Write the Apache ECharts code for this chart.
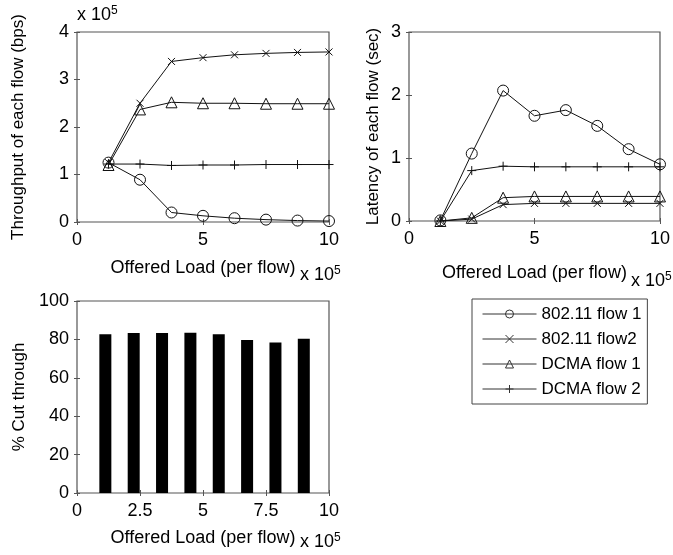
<!DOCTYPE html>
<html>
<head>
<meta charset="utf-8">
<script src="https://cdn.jsdelivr.net/npm/echarts@6/dist/echarts.min.js"></script>
<style>html,body{margin:0;padding:0;background:#fff}#c{width:673px;height:555px}</style>
</head>
<body>
<div id="c"></div>
<script>
// ---- data (offered load and throughput in units of 10^5) ----
var loadX = [1.25, 2.5, 3.75, 5, 6.25, 7.5, 8.75, 10];
var seriesNames = ['802.11 flow 1', '802.11 flow2', 'DCMA flow 1', 'DCMA flow 2'];
var thr80211F1 = [1.25, 0.89, 0.20, 0.13, 0.08, 0.05, 0.03, 0.02];
var thr80211F2 = [1.25, 2.50, 3.38, 3.46, 3.52, 3.55, 3.57, 3.58];
var thrDcmaF1  = [1.20, 2.37, 2.52, 2.50, 2.50, 2.49, 2.49, 2.49];
var thrDcmaF2  = [1.22, 1.22, 1.19, 1.20, 1.20, 1.21, 1.21, 1.21];
var lat80211F1 = [0.01, 1.07, 2.07, 1.67, 1.76, 1.51, 1.14, 0.90];
var lat80211F2 = [0.00, 0.03, 0.26, 0.28, 0.28, 0.28, 0.28, 0.28];
var latDcmaF1  = [0.00, 0.05, 0.37, 0.39, 0.39, 0.39, 0.39, 0.39];
var latDcmaF2  = [0.00, 0.80, 0.87, 0.86, 0.86, 0.86, 0.86, 0.86];
var barX = [1.125, 2.25, 3.375, 4.5, 5.625, 6.75, 7.875, 9];
var cutThrough = [82.7, 83.3, 83.3, 83.5, 82.7, 79.7, 78.4, 80.4];

var FONT = 'Liberation Sans, Arial, Helvetica, sans-serif';
var symbols = [
  'circle',
  'path://M0,0L1,1M1,0L0,1',
  'triangle',
  'path://M0.5,0L0.5,1M0,0.5L1,0.5'
];
var symSizes = [11, 7, 11, 9];

function pairs(xs, ys) { return xs.map(function (x, i) { return [x, ys[i]]; }); }

function lineSeries(idx, grid, data) {
  return {
    type: 'line', name: seriesNames[idx], xAxisIndex: grid * 2, yAxisIndex: grid * 2,
    data: pairs(loadX, data), symbol: symbols[idx], symbolSize: symSizes[idx],
    showAllSymbol: true,
    lineStyle: { color: '#111', width: 1 },
    itemStyle: { color: 'rgba(0,0,0,0)', borderColor: '#111', borderWidth: 1 },
    emphasis: { disabled: true }, animation: false, z: 3
  };
}

var grids = [
  { left: 77, top: 32, width: 252, height: 190 },
  { left: 409, top: 32, width: 253, height: 189 },
  { left: 77, top: 301, width: 252, height: 192 }
];
grids.forEach(function (g) { g.show = true; g.borderColor = '#555'; g.borderWidth = 1.2; g.backgroundColor = '#fff'; });

var axLbl = { fontSize: 18, fontFamily: FONT, color: '#000' };

function xAxes(grid, interval, gap) {
  return [
    { type: 'value', gridIndex: grid, min: 0, max: 10, interval: interval, position: 'bottom',
      axisLine: { show: false }, splitLine: { show: false },
      axisTick: { inside: true, length: 3, lineStyle: { color: '#555' } },
      axisLabel: Object.assign({ margin: 9, formatter: function (v) { return String(v); } }, axLbl),
      name: 'Offered Load (per flow)', nameLocation: 'middle', nameGap: gap,
      nameTextStyle: { fontSize: 18, fontFamily: FONT, color: '#000' } },
    { type: 'value', gridIndex: grid, min: 0, max: 10, interval: interval, position: 'top',
      axisLine: { show: false }, splitLine: { show: false }, axisLabel: { show: false },
      axisTick: { inside: true, length: 3, lineStyle: { color: '#555' } } }
  ];
}
function yAxes(grid, max, interval, name, gap) {
  return [
    { type: 'value', gridIndex: grid, min: 0, max: max, interval: interval, position: 'left',
      axisLine: { show: false }, splitLine: { show: false },
      axisTick: { inside: true, length: 3, lineStyle: { color: '#555' } },
      axisLabel: Object.assign({ margin: 8 }, axLbl),
      name: name, nameLocation: 'middle', nameGap: gap,
      nameTextStyle: { fontSize: 17, fontFamily: FONT, color: '#000' } },
    { type: 'value', gridIndex: grid, min: 0, max: max, interval: interval, position: 'right',
      axisLine: { show: false }, splitLine: { show: false }, axisLabel: { show: false },
      axisTick: { inside: true, length: 3, lineStyle: { color: '#555' } } }
  ];
}

var series = [
  lineSeries(0, 0, thr80211F1), lineSeries(1, 0, thr80211F2), lineSeries(2, 0, thrDcmaF1), lineSeries(3, 0, thrDcmaF2),
  lineSeries(0, 1, lat80211F1), lineSeries(1, 1, lat80211F2), lineSeries(2, 1, latDcmaF1), lineSeries(3, 1, latDcmaF2),
  { type: 'bar', name: 'cut', xAxisIndex: 4, yAxisIndex: 4, data: pairs(barX, cutThrough),
    barWidth: 12, itemStyle: { color: '#000' }, emphasis: { disabled: true }, animation: false }
];

var sup = { s: { fontSize: 12, fontFamily: FONT, color: '#000', verticalAlign: 'top', padding: [0, 0, 8, 0] } };
function expText(left, top) {
  return { type: 'text', left: left, top: top, z: 10,
    style: { text: 'x 10{s|5}', fontSize: 18, fontFamily: FONT, fill: '#000', rich: sup } };
}

var option = {
  animation: false,
  backgroundColor: '#fff',
  grid: grids,
  xAxis: xAxes(0, 5, 37).concat(xAxes(1, 5, 43)).concat(xAxes(2, 2.5, 36)),
  yAxis: yAxes(0, 4, 1, 'Throughput of each flow (bps)', 50)
    .concat(yAxes(1, 3, 1, 'Latency of each flow (sec)', 27))
    .concat(yAxes(2, 100, 20, '% Cut through', 49)),
  legend: {
    data: seriesNames, orient: 'vertical', left: 472, top: 299,
    itemWidth: 54, itemHeight: 10, itemGap: 5, padding: [5, 6, 5, 10],
    borderColor: '#444', borderWidth: 1, selectedMode: false,
    lineStyle: { width: 1, color: '#333' },
    itemStyle: { borderWidth: 1, borderColor: '#333', color: 'rgba(0,0,0,0)' },
    textStyle: { fontSize: 17, fontFamily: FONT, color: '#000', lineHeight: 20 }
  },
  graphic: [expText(77, 5), expText(300, 265), expText(631, 271), expText(300, 532)],
  series: series
};

var chart = echarts.init(document.getElementById('c'), null, { renderer: 'canvas' });
chart.setOption(option);
</script>
</body>
</html>
